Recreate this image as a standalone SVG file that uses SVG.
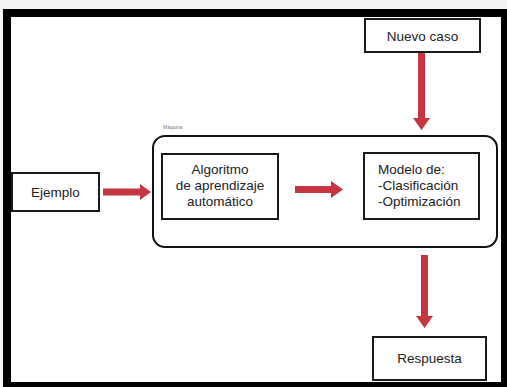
<svg xmlns="http://www.w3.org/2000/svg" width="507" height="387" viewBox="0 0 507 387">
<style>
.box{fill:#fff;stroke:#1a1a1a;stroke-width:2}
.t{font-family:"Liberation Sans",Arial,sans-serif;font-size:13.5px;fill:#222}
.arr{fill:#c73540}
</style>
<rect x="0" y="0" width="507" height="387" fill="#f4f4f4"/>
<g id="frame">
<rect x="3" y="9" width="504" height="378" fill="#000"/>
<rect x="11" y="17" width="490" height="365" fill="#fff"/>
</g>
<g id="maquina">
<rect x="153" y="136" width="344" height="111" rx="12" ry="12" fill="none" stroke="#111" stroke-width="2"/>
<text x="163" y="129" font-family="Liberation Sans,Arial,sans-serif" font-size="5" fill="#777">Máquina</text>
</g>
<g id="connectors">
<polygon class="arr" points="103,188.5 140,188.5 140,184 151,192 140,200 140,195.5 103,195.5"/>
<polygon class="arr" points="295,186 331,186 331,181 343,189.5 331,198 331,193 295,193"/>
<polygon class="arr" points="418,52 425,52 425,118 430,118 421.5,130 413,118 418,118"/>
<polygon class="arr" points="421,255 428,255 428,316 433,316 424.5,328 416,316 421,316"/>
</g>
<g id="nuevo-caso">
<rect class="box" x="365" y="19" width="115" height="33"/>
<text class="t" x="422.5" y="40.5" text-anchor="middle" font-size="14">Nuevo caso</text>
</g>
<g id="ejemplo">
<rect class="box" x="12" y="173" width="87" height="38"/>
<text class="t" x="55.5" y="197" text-anchor="middle">Ejemplo</text>
</g>
<g id="algoritmo">
<rect class="box" x="162" y="154" width="116" height="65"/>
<text class="t" text-anchor="middle"><tspan x="220" y="174">Algoritmo</tspan><tspan x="220" y="190">de aprendizaje</tspan><tspan x="220" y="206">automático</tspan></text>
</g>
<g id="modelo">
<rect class="box" x="364" y="153" width="115" height="66"/>
<text class="t"><tspan x="378" y="174">Modelo de:</tspan><tspan x="378" y="190">-Clasificación</tspan><tspan x="378" y="206">-Optimización</tspan></text>
</g>
<g id="respuesta">
<rect class="box" x="373" y="337" width="113" height="43"/>
<text class="t" x="429.5" y="363" text-anchor="middle">Respuesta</text>
</g>
</svg>
